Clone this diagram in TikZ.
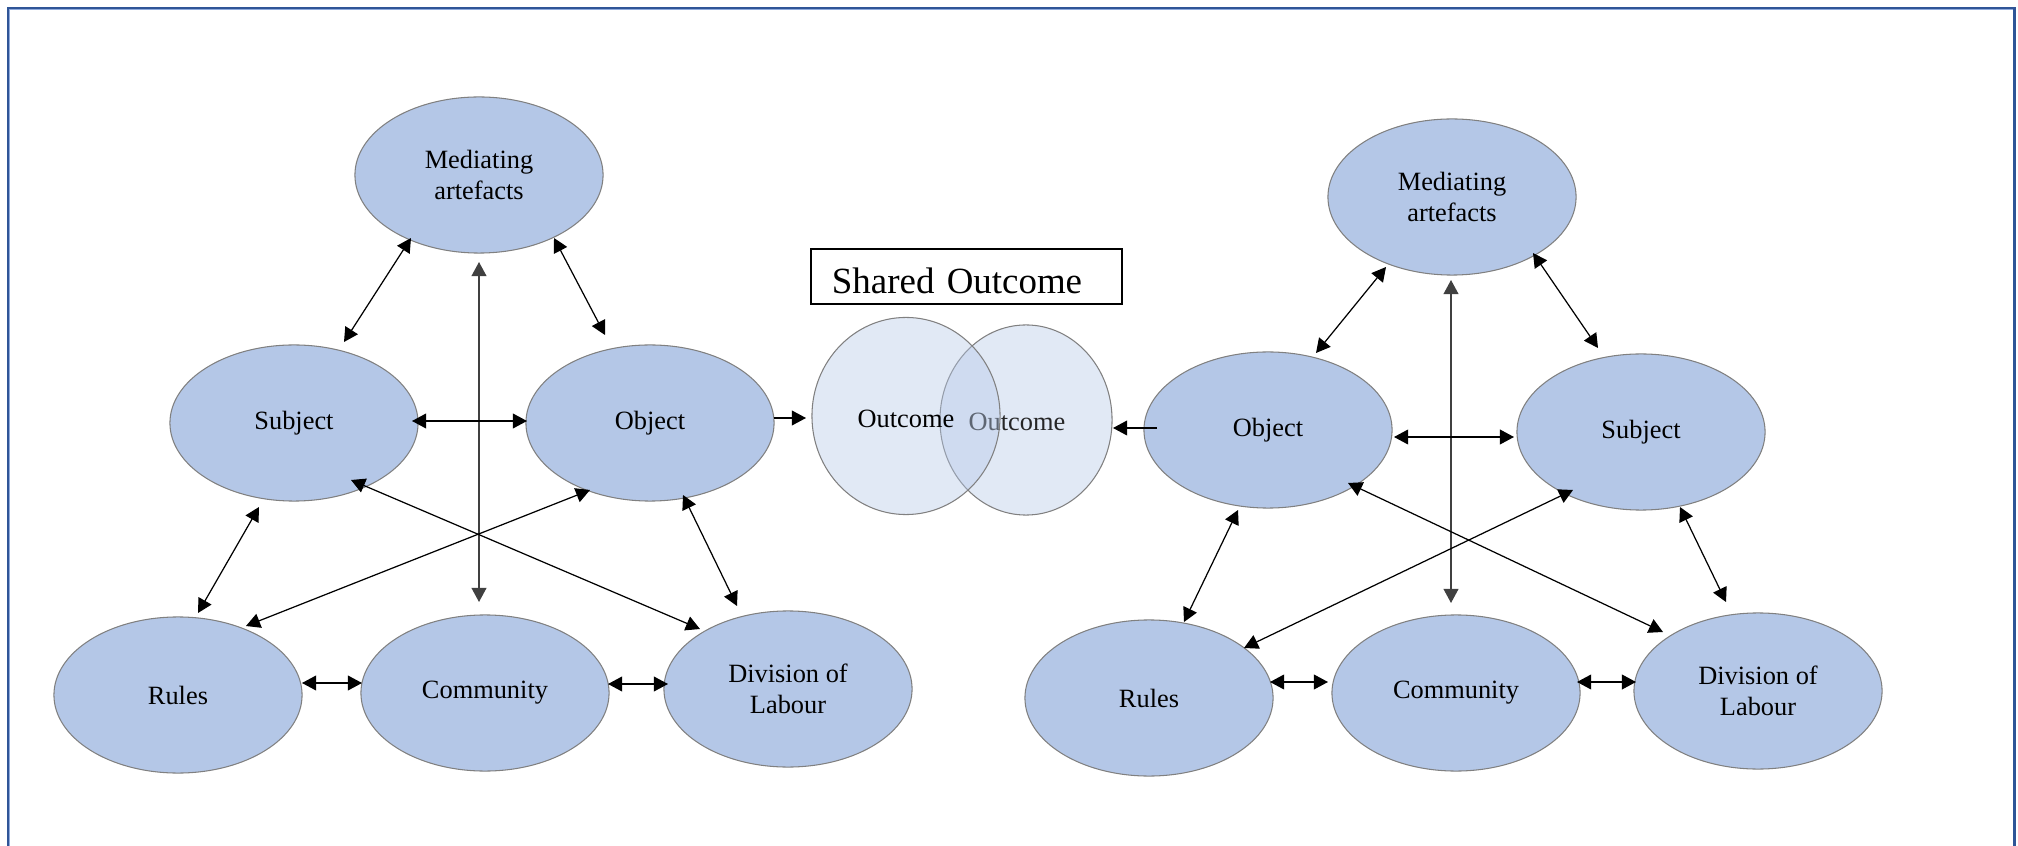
\documentclass[tikz,border=0pt]{standalone}
\usepackage{fontspec}
\setmainfont{Liberation Serif}
\usetikzlibrary{shapes.geometric, arrows.meta, calc}

\definecolor{actfill}{HTML}{B4C7E7}
\definecolor{frameblue}{HTML}{2F5597}
\definecolor{framelight}{HTML}{8FAADC}

\begin{document}
\begin{tikzpicture}[x=0.01cm, y=-0.01cm,
  act/.style={ellipse, draw=black!50, line width=0.3pt, fill=actfill,
    minimum width=2.48cm, minimum height=1.56cm, inner sep=0pt,
    align=center, font=\fontsize{7.5}{9}\selectfont},
  outc/.style={ellipse, draw=black!50, line width=0.3pt, fill=actfill,
    fill opacity=0.4, text opacity=1, inner sep=0pt,
    font=\fontsize{7.5}{9}\selectfont},
  tip/.tip={Triangle[length=4pt, width=4.2pt]},
  link/.style={line width=0.35pt, tip-tip},
  mainlink/.style={line width=0.45pt, black!75, tip-tip},
  feed/.style={line width=0.35pt, -tip},
]
\useasboundingbox (0,0) rectangle (2018,846);

% frame
\draw[frameblue, line width=0.65pt] (7.8,880) -- (7.8,7.8) -- (2014.5,7.8) -- (2014.5,880);
\draw[framelight, line width=0.35pt] (9.7,880) -- (9.7,9.7) -- (2012.6,9.7);

% left activity system
\node[act] (lm) at (479,175) {Mediating\\artefacts};
\node[act] (ls) at (294,423) {Subject};
\node[act] (lo) at (650,423) {Object};
\node[act] (lr) at (178,695) {Rules};
\node[act] (lc) at (485,693) {Community};
\node[act] (ld) at (788,689) {Division of\\Labour};

% right activity system
\node[act] (rm) at (1452,197) {Mediating\\artefacts};
\node[act] (ro) at (1268,430) {Object};
\node[act] (rs) at (1641,432) {Subject};
\node[act] (rr) at (1149,698) {Rules};
\node[act] (rc) at (1456,693) {Community};
\node[act] (rd) at (1758,691) {Division of\\Labour};

% shared outcome
\node[draw, line width=0.5pt, minimum height=0.55cm, inner ysep=0pt,
  inner xsep=0.21cm, text width=2.69cm, align=left,
  font=\fontsize{10.5}{12}\selectfont] (so) at (966.5,276.5)
  {\raisebox{-0.04cm}[\height][\depth]{Shared Outcome}};
\node[outc, minimum width=1.72cm, minimum height=1.90cm,
  label={[text=black!85, xshift=-0.09cm, yshift=-0.02cm, font=\fontsize{7.5}{9}\selectfont]center:Outcome}]
  (oc2) at (1026,420) {};
\node[outc, minimum width=1.88cm, minimum height=1.97cm,
  label={[yshift=-0.03cm, font=\fontsize{7.5}{9}\selectfont]center:Outcome}]
  (oc1) at (906,416) {};

% left connectors
\draw[link] ($(ls.center)+(50,-81)$) -- ($(lm.center)+(-68,63)$);
\draw[link] ($(lm.center)+(75,63)$) -- ($(lo.center)+(-45,-88)$);
\draw[mainlink] ($(lm.center)+(0,87)$) -- ($(lc.center)+(-6,-91)$);
\draw[link] ($(ls.center)+(118,-2)$) -- ($(lo.center)+(-123,-2)$);
\draw[link] ($(ls.center)+(-35,84)$) -- ($(lr.center)+(20,-82)$);
\draw[link] ($(lo.center)+(33,72)$) -- ($(ld.center)+(-51,-83)$);
\draw[link] ($(ls.center)+(57,57)$) -- ($(ld.center)+(-88,-60)$);
\draw[link] ($(lo.center)+(-60,67)$) -- ($(lr.center)+(68,-69)$);
\draw[link] ($(lr.center)+(124,-12)$) -- ($(lc.center)+(-123,-10)$);
\draw[link] ($(lc.center)+(123,-9)$) -- ($(ld.center)+(-120,-5)$);
\draw[feed] ($(lo.center)+(124,-5)$) -- ($(oc1.center)+(-100,2)$);

% right connectors
\draw[link] ($(ro.center)+(48,-77)$) -- ($(rm.center)+(-66,70)$);
\draw[link] ($(rm.center)+(81,56)$) -- ($(rs.center)+(-43,-84)$);
\draw[mainlink] ($(rm.center)+(-1,83)$) -- ($(rc.center)+(-5,-90)$);
\draw[link] ($(ro.center)+(126,7)$) -- ($(rs.center)+(-127,5)$);
\draw[link] ($(ro.center)+(-30,80)$) -- ($(rr.center)+(35,-76)$);
\draw[link] ($(rs.center)+(39,75)$) -- ($(rd.center)+(-32,-89)$);
\draw[link] ($(ro.center)+(80,53)$) -- ($(rd.center)+(-95,-59)$);
\draw[link] ($(rs.center)+(-68,58)$) -- ($(rr.center)+(95,-50)$);
\draw[link] ($(rr.center)+(121,-16)$) -- ($(rc.center)+(-128,-11)$);
\draw[link] ($(rc.center)+(121,-11)$) -- ($(rd.center)+(-122,-9)$);
\draw[feed] ($(ro.center)+(-111,-2)$) -- ($(oc2.center)+(87,8)$);
\end{tikzpicture}
\end{document}
